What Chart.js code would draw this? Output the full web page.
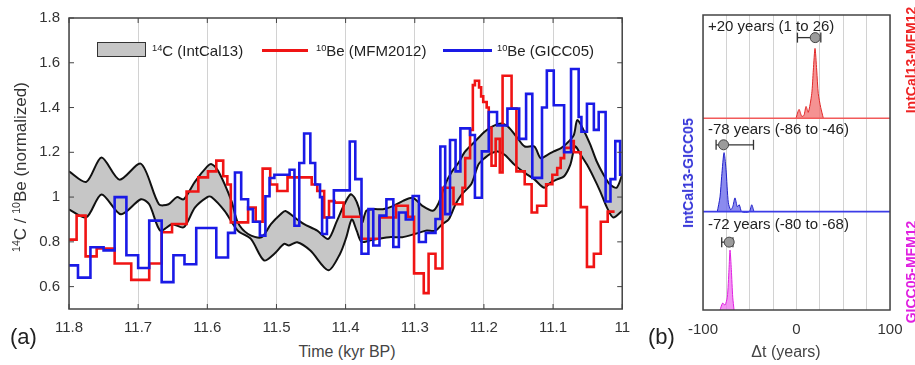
<!DOCTYPE html>
<html lang="en">
<head>
<meta charset="UTF-8">
<title>14C / 10Be (normalized) - IntCal13, MFM2012, GICC05</title>
<script src="https://cdn.jsdelivr.net/npm/chart.js@4"></script>
<style>
  body { margin: 0; background: #fff; }
  #fig {
    position: relative; width: 915px; height: 365px; overflow: hidden;
    font-family: 'Liberation Sans', Arial, Helvetica, sans-serif; color: #333;
  }
  .panel { position: absolute; top: 0; height: 340px; }
  #left-panel { left: 0; width: 640px; }
  #right-panel { left: 660px; width: 255px; }
  .txt { position: absolute; white-space: nowrap; line-height: 1; }
  .vc { transform: translateY(-50%); }
  .mid { transform: translate(-50%, -50%); }
  .vert { transform: translate(-50%, -50%) rotate(-90deg); }
  sup { font-size: 0.62em; vertical-align: 0.5em; line-height: 0; }
  .swatch { position: absolute; }
</style>
</head>
<body>
<div id="fig">
  <div class="panel" id="left-panel"><canvas id="left"></canvas></div>
  <div class="panel" id="right-panel"><canvas id="right"></canvas></div>

  <!-- legend of panel (a) -->
  <div class="swatch" style="left:97px; top:42px; width:47px; height:13px; background:#c6c6c6; border:1.5px solid #333;"></div>
  <div class="txt vc" style="left:152px; top:50px; font-size:15px; color:#222;"><sup>14</sup>C (IntCal13)</div>
  <div class="swatch" style="left:262px; top:48.5px; width:46px; height:3px; background:#f01414;"></div>
  <div class="txt vc" style="left:316px; top:50px; font-size:15px; color:#222;"><sup>10</sup>Be (MFM2012)</div>
  <div class="swatch" style="left:443px; top:48.5px; width:49px; height:3px; background:#1a1ae6;"></div>
  <div class="txt vc" style="left:497px; top:50px; font-size:15px; color:#222;"><sup>10</sup>Be (GICC05)</div>

  <!-- axis titles and panel letters -->
  <div class="txt vert" style="left:20px; top:167px; font-size:17px; color:#333;"><sup>14</sup>C / <sup>10</sup>Be (normalized)</div>
  <div class="txt mid" style="left:347px; top:352px; font-size:16px; color:#444;">Time (kyr BP)</div>
  <div class="txt" style="left:10px; top:326px; font-size:22px; color:#222;">(a)</div>
  <div class="txt" style="left:648px; top:326px; font-size:22px; color:#222;">(b)</div>
  <div class="txt mid" style="left:786px; top:352px; font-size:16px; color:#444;">&Delta;t (years)</div>

  <!-- lag annotations of panel (b), text filled from the data below -->
  <div class="txt vc" id="lag0" style="left:708px; top:25px; font-size:15px; color:#222;"></div>
  <div class="txt vc" id="lag1" style="left:708px; top:128px; font-size:15px; color:#222;"></div>
  <div class="txt vc" id="lag2" style="left:708px; top:223px; font-size:15px; color:#222;"></div>

  <div class="txt vert" id="name1" style="left:688px; top:173px; font-size:14px; font-weight:bold; color:#3434d8;"></div>
  <div class="txt vert" id="name0" style="left:911px; top:60px; font-size:14px; font-weight:bold; color:#ee2424;"></div>
  <div class="txt vert" id="name2" style="left:911px; top:272px; font-size:14px; font-weight:bold; color:#e020e0;"></div>
</div>

<script>
// ---- panel (a): time axis in kyr BP ----
const xTicks = [11.8, 11.7, 11.6, 11.5, 11.4, 11.3, 11.2, 11.1, 11];
const yTicks = [0.6, 0.8, 1, 1.2, 1.4, 1.6, 1.8];

// 14C (IntCal13) envelope, upper and lower edge
const intcalHiT = [11.800, 11.775, 11.753, 11.727, 11.696, 11.670, 11.656, 11.644, 11.634, 11.618,
  11.600, 11.594, 11.584, 11.565, 11.556, 11.541, 11.522, 11.508, 11.494, 11.487,
  11.470, 11.460, 11.441, 11.425, 11.413, 11.403, 11.393, 11.387, 11.381, 11.376,
  11.370, 11.360, 11.346, 11.331, 11.317, 11.303, 11.289, 11.274, 11.266, 11.256,
  11.246, 11.237, 11.227, 11.213, 11.199, 11.189, 11.175, 11.165, 11.151, 11.141,
  11.127, 11.118, 11.108, 11.099, 11.089, 11.080, 11.070, 11.065, 11.056, 11.046,
  11.037, 11.027, 11.018, 11.008, 11.000];
const intcalHiV = [1.115, 1.068, 1.177, 1.078, 1.149, 0.968, 0.968, 1.000, 0.990, 1.068,
  1.137, 1.147, 1.115, 0.982, 0.887, 0.835, 0.820, 0.879, 0.923, 0.938,
  0.900, 0.879, 0.850, 0.813, 0.890, 0.960, 1.012, 0.997, 0.953, 0.887,
  0.939, 0.946, 0.946, 0.961, 0.983, 0.997, 0.961, 0.939, 0.970, 1.057,
  1.115, 1.152, 1.204, 1.248, 1.292, 1.314, 1.329, 1.314, 1.262, 1.226,
  1.226, 1.174, 1.189, 1.204, 1.218, 1.240, 1.277, 1.344, 1.300, 1.233,
  1.160, 1.100, 1.057, 1.042, 1.100];
const intcalLoT = [11.800, 11.775, 11.753, 11.725, 11.696, 11.684, 11.668, 11.651, 11.634, 11.618,
  11.600, 11.594, 11.575, 11.556, 11.537, 11.518, 11.503, 11.489, 11.482, 11.470,
  11.451, 11.425, 11.408, 11.399, 11.391, 11.384, 11.377, 11.365, 11.351, 11.337,
  11.318, 11.299, 11.284, 11.270, 11.260, 11.251, 11.241, 11.232, 11.218, 11.208,
  11.199, 11.189, 11.180, 11.170, 11.156, 11.141, 11.127, 11.113, 11.104, 11.094,
  11.084, 11.075, 11.068, 11.060, 11.051, 11.041, 11.032, 11.022, 11.013, 11.000];
const intcalLoV = [0.945, 0.909, 1.012, 0.923, 0.990, 0.968, 0.850, 0.879, 0.865, 0.953,
  1.000, 1.000, 0.938, 0.850, 0.813, 0.717, 0.747, 0.791, 0.784, 0.798,
  0.761, 0.673, 0.747, 0.820, 0.900, 0.850, 0.800, 0.806, 0.814, 0.821,
  0.821, 0.836, 0.850, 0.850, 0.880, 0.900, 0.968, 1.012, 1.060, 1.145,
  1.174, 1.196, 1.204, 1.189, 1.145, 1.108, 1.079, 1.042, 1.064, 1.079,
  1.093, 1.145, 1.226, 1.189, 1.145, 1.086, 1.027, 0.953, 0.909, 0.939];

// 10Be (MFM2012): step start times and values (last entry closes the final step)
const mfmT = [11.800, 11.789, 11.776, 11.760, 11.734, 11.710, 11.684, 11.666, 11.651, 11.630,
  11.613, 11.599, 11.587, 11.577, 11.571, 11.566, 11.541, 11.530, 11.520, 11.509,
  11.499, 11.484, 11.449, 11.441, 11.431, 11.424, 11.416, 11.403, 11.377, 11.351,
  11.327, 11.310, 11.301, 11.287, 11.280, 11.270, 11.260, 11.244, 11.231, 11.227,
  11.220, 11.216, 11.213, 11.207, 11.204, 11.201, 11.196, 11.193, 11.189, 11.183,
  11.177, 11.173, 11.160, 11.153, 11.141, 11.131, 11.123,
  11.110, 11.101, 11.094, 11.089, 11.084, 11.074, 11.070, 11.060, 11.051, 11.041,
  11.031, 11.021, 11.011];
const mfmV = [0.81, 0.917, 0.735, 0.77, 0.703, 0.63, 0.703, 0.843, 0.88, 1.025,
  1.088, 1.115, 1.163, 1.093, 1.056, 0.887, 0.953, 0.89, 1.127, 1.056,
  1.027, 1.088, 1.056, 1.027, 0.909, 0.982, 0.975, 0.912, 0.814, 0.909,
  0.961, 0.912, 0.659, 0.571, 0.747, 0.681, 1.042, 0.968, 1.042, 1.174,
  1.30, 1.50, 1.52, 1.49, 1.45, 1.425, 1.40, 1.31, 1.14, 1.26,
  1.11, 1.542, 1.395, 1.115, 1.057, 0.931, 0.961,
  1.057, 1.10, 1.13, 1.174, 1.22, 1.25, 1.20, 0.955, 0.688, 0.747,
  0.89, 0.935, 0.935];

// 10Be (GICC05): step start times and values
const giccT = [11.800, 11.787, 11.769, 11.750, 11.734, 11.717, 11.700, 11.684, 11.666, 11.649,
  11.633, 11.616, 11.587, 11.570, 11.560, 11.551, 11.541, 11.534, 11.524, 11.516,
  11.510, 11.503, 11.481, 11.474, 11.467, 11.460, 11.451, 11.444, 11.437, 11.434,
  11.427, 11.417, 11.394, 11.386, 11.377, 11.367, 11.360, 11.351, 11.341, 11.331,
  11.323, 11.313, 11.303, 11.294, 11.284, 11.270, 11.263, 11.256, 11.249, 11.241,
  11.234, 11.220, 11.213, 11.203, 11.193, 11.181, 11.166, 11.149, 11.139, 11.130,
  11.116, 11.109, 11.099, 11.084, 11.074, 11.063, 11.059, 11.051, 11.041, 11.034,
  11.024, 11.017, 11.010, 11.003, 11.000];
const giccV = [0.695, 0.64, 0.776, 0.762, 1.0, 0.74, 0.683, 0.895, 0.62, 0.74,
  0.70, 0.862, 0.73, 0.84, 1.11, 0.99, 0.946, 0.89, 0.828, 1.004,
  1.085, 1.10, 1.122, 0.872, 1.152, 1.284, 1.152, 1.056, 1.0, 0.835,
  0.909, 1.03, 1.248, 1.08, 0.747, 0.946, 0.784, 0.917, 0.99, 0.777,
  0.931, 0.90, 1.005, 0.799, 0.84, 0.902, 1.226, 0.924, 1.255, 1.115,
  1.307, 1.277, 0.997, 1.204, 1.38, 1.32, 1.395, 1.26, 1.461, 1.086,
  1.40, 1.565, 1.41, 1.20, 1.572, 1.358, 1.292, 1.417, 1.30, 1.38,
  0.98, 1.08, 1.25, 1.10, 1.10];

// ---- panel (b): lag distributions, delta t in years ----
const dtTicks = [-100, -75, -50, -25, 0, 25, 50, 75, 100];
const lagNames = ['IntCal13-MFM12', 'IntCal13-GICC05', 'GICC05-MFM12'];
const lagMedian = [20, -78, -72];
const lagLow = [1, -86, -80];
const lagHigh = [26, -46, -68];

const redDt = [-0.5, 2.7, 5.6, 8, 10.2, 12.6, 16.3, 18, 19.8, 21.6, 23.3, 25.9, 28.7];
const redDens = [0, 0.09, 0.02, 0.03, 0.12, 0.06, 0.25, 0.49, 0.71, 0.49, 0.25, 0.11, 0];
const blueDt = [-84.7, -81.8, -80, -77.5, -75.4, -72.9, -70.4, -68.2, -65.8, -63.3, -61.2, -58.6, -50.5, -47.9, -45.5];
const blueDens = [0, 0.15, 0.36, 0.6, 0.43, 0.09, 0.02, 0.05, 0.14, 0.05, 0.07, 0, 0, 0.07, 0];
const magDt = [-81.8, -79, -76.5, -74, -72.2, -71.1, -69.7, -68.2, -66.8];
const magDens = [0, 0.07, 0.05, 0.13, 0.41, 0.61, 0.41, 0.13, 0];

// layout of the three stacked strips in panel (b), in y units
const stripBase = [1.95, 1, 0];
const barY = [2.77, 1.68, 0.69];

const pts = (xs, ys) => xs.map((x, i) => ({ x: x, y: ys[i] }));
const fmt1 = v => String(+(+v).toFixed(1));

Chart.defaults.font.family = "'Liberation Sans', Arial, Helvetica, sans-serif";
Chart.defaults.font.size = 15;
Chart.defaults.color = '#333';

// box around the plot area plus MATLAB-like inward tick marks
const framePlugin = {
  id: 'frame',
  afterDatasetsDraw(chart, args, opts) {
    const { ctx, chartArea: a, scales } = chart;
    ctx.save();
    ctx.strokeStyle = '#444';
    ctx.lineWidth = 1.5;
    if (opts.tick) {
      ctx.beginPath();
      scales.x.ticks.forEach(t => {
        const px = scales.x.getPixelForValue(t.value);
        ctx.moveTo(px, a.top); ctx.lineTo(px, a.top + opts.tick);
        ctx.moveTo(px, a.bottom); ctx.lineTo(px, a.bottom - opts.tick);
      });
      if (opts.yTicks) {
        scales.y.ticks.forEach(t => {
          const py = scales.y.getPixelForValue(t.value);
          ctx.moveTo(a.left, py); ctx.lineTo(a.left + opts.tick, py);
          ctx.moveTo(a.right, py); ctx.lineTo(a.right - opts.tick, py);
        });
      }
      ctx.lineWidth = 1;
      ctx.stroke();
      ctx.lineWidth = 1.5;
    }
    ctx.strokeRect(a.left, a.top, a.right - a.left, a.bottom - a.top);
    ctx.restore();
  }
};

new Chart(document.getElementById('left'), {
  type: 'line',
  plugins: [framePlugin],
  data: {
    datasets: [
      { label: '10Be (GICC05)', data: pts(giccT, giccV), borderColor: '#1a1ae6', borderWidth: 2.6,
        stepped: 'before', pointRadius: 0, fill: false, order: 0 },
      { label: '10Be (MFM2012)', data: pts(mfmT, mfmV), borderColor: '#f01414', borderWidth: 2.6,
        stepped: 'before', pointRadius: 0, fill: false, order: 1 },
      { label: '14C (IntCal13) upper', data: pts(intcalHiT, intcalHiV), borderColor: '#111', borderWidth: 2,
        tension: 0.28, pointRadius: 0, fill: '+1', backgroundColor: '#c6c6c6', order: 2 },
      { label: '14C (IntCal13) lower', data: pts(intcalLoT, intcalLoV), borderColor: '#111', borderWidth: 2,
        tension: 0.28, pointRadius: 0, fill: false, order: 3 }
    ]
  },
  options: {
    animation: false,
    responsive: true,
    maintainAspectRatio: false,
    layout: { padding: { top: 15, right: 11, left: 0, bottom: 0 } },
    plugins: {
      legend: { display: false },
      tooltip: { enabled: false },
      filler: { drawTime: 'beforeDatasetsDraw' },
      frame: { tick: 5, yTicks: true }
    },
    scales: {
      x: {
        type: 'linear', reverse: true, min: 11, max: 11.8,
        afterBuildTicks: s => { s.ticks = xTicks.map(v => ({ value: v })); },
        afterFit: s => { s.height = 31; },
        ticks: { padding: 10, autoSkip: false, maxRotation: 0, callback: v => fmt1(v) },
        grid: { color: '#d2d2d2', lineWidth: 1, drawTicks: false },
        border: { display: false }
      },
      y: {
        type: 'linear', min: 0.5, max: 1.8,
        afterBuildTicks: s => { s.ticks = yTicks.map(v => ({ value: v })); },
        afterFit: s => { s.width = 69; },
        ticks: { padding: 9, callback: v => fmt1(v) },
        grid: { display: false, drawTicks: false },
        border: { display: false }
      }
    }
  }
});

// panel (b) datasets
const stripColors = [
  { line: '#f25a5a', edge: '#e02828', fill: 'rgba(242, 110, 110, 0.75)' },
  { line: '#3c3ce8', edge: '#2020c8', fill: 'rgba(110, 110, 235, 0.8)' },
  { line: '#e020e0', edge: '#e020e0', fill: 'rgba(240, 120, 240, 0.8)' }
];
const dists = [[redDt, redDens], [blueDt, blueDens], [magDt, magDens]];
const rightSets = [];
dists.forEach(([xs, ds], i) => {
  rightSets.push({
    data: pts(xs, ds.map(d => d + stripBase[i])),
    borderColor: stripColors[i].edge, borderWidth: 1, backgroundColor: stripColors[i].fill,
    fill: { value: stripBase[i] }, tension: 0.25, pointRadius: 0, order: 5
  });
  if (stripBase[i] > 0) {
    rightSets.push({
      data: [{ x: -100, y: stripBase[i] }, { x: 100, y: stripBase[i] }],
      borderColor: stripColors[i].line, borderWidth: 1.6, pointRadius: 0, fill: false, order: 4
    });
  }
  rightSets.push({
    data: [{ x: lagLow[i], y: barY[i] }, { x: lagHigh[i], y: barY[i] }],
    borderColor: '#333', borderWidth: 1.3, fill: false,
    pointStyle: 'line', rotation: 90, pointRadius: 5, pointBorderColor: '#333', pointBorderWidth: 1.3, order: 2
  });
  rightSets.push({
    data: [{ x: lagMedian[i], y: barY[i] }],
    showLine: false, pointRadius: 5, pointBackgroundColor: '#9b9b9b',
    pointBorderColor: '#444', pointBorderWidth: 1, order: 1
  });
  document.getElementById('lag' + i).textContent =
    (lagMedian[i] > 0 ? '+' : '') + lagMedian[i] + ' years (' + lagLow[i] + ' to ' + lagHigh[i] + ')';
  document.getElementById('name' + i).textContent = lagNames[i];
});

new Chart(document.getElementById('right'), {
  type: 'line',
  plugins: [framePlugin],
  data: { datasets: rightSets },
  options: {
    animation: false,
    responsive: true,
    maintainAspectRatio: false,
    layout: { padding: { top: 15, right: 25, left: 43, bottom: 0 } },
    plugins: {
      legend: { display: false },
      tooltip: { enabled: false },
      filler: { drawTime: 'beforeDatasetsDraw' },
      frame: { tick: 0 }
    },
    scales: {
      x: {
        type: 'linear', min: -100, max: 100,
        afterBuildTicks: s => { s.ticks = dtTicks.map(v => ({ value: v })); },
        afterFit: s => { s.height = 30; },
        ticks: { padding: 11, autoSkip: false, maxRotation: 0, callback: v => (v % 100 === 0 ? String(v) : '') },
        grid: { color: '#d2d2d2', lineWidth: 1, drawTicks: false },
        border: { display: false }
      },
      y: { display: false, min: 0, max: 3 }
    }
  }
});
</script>
</body>
</html>
